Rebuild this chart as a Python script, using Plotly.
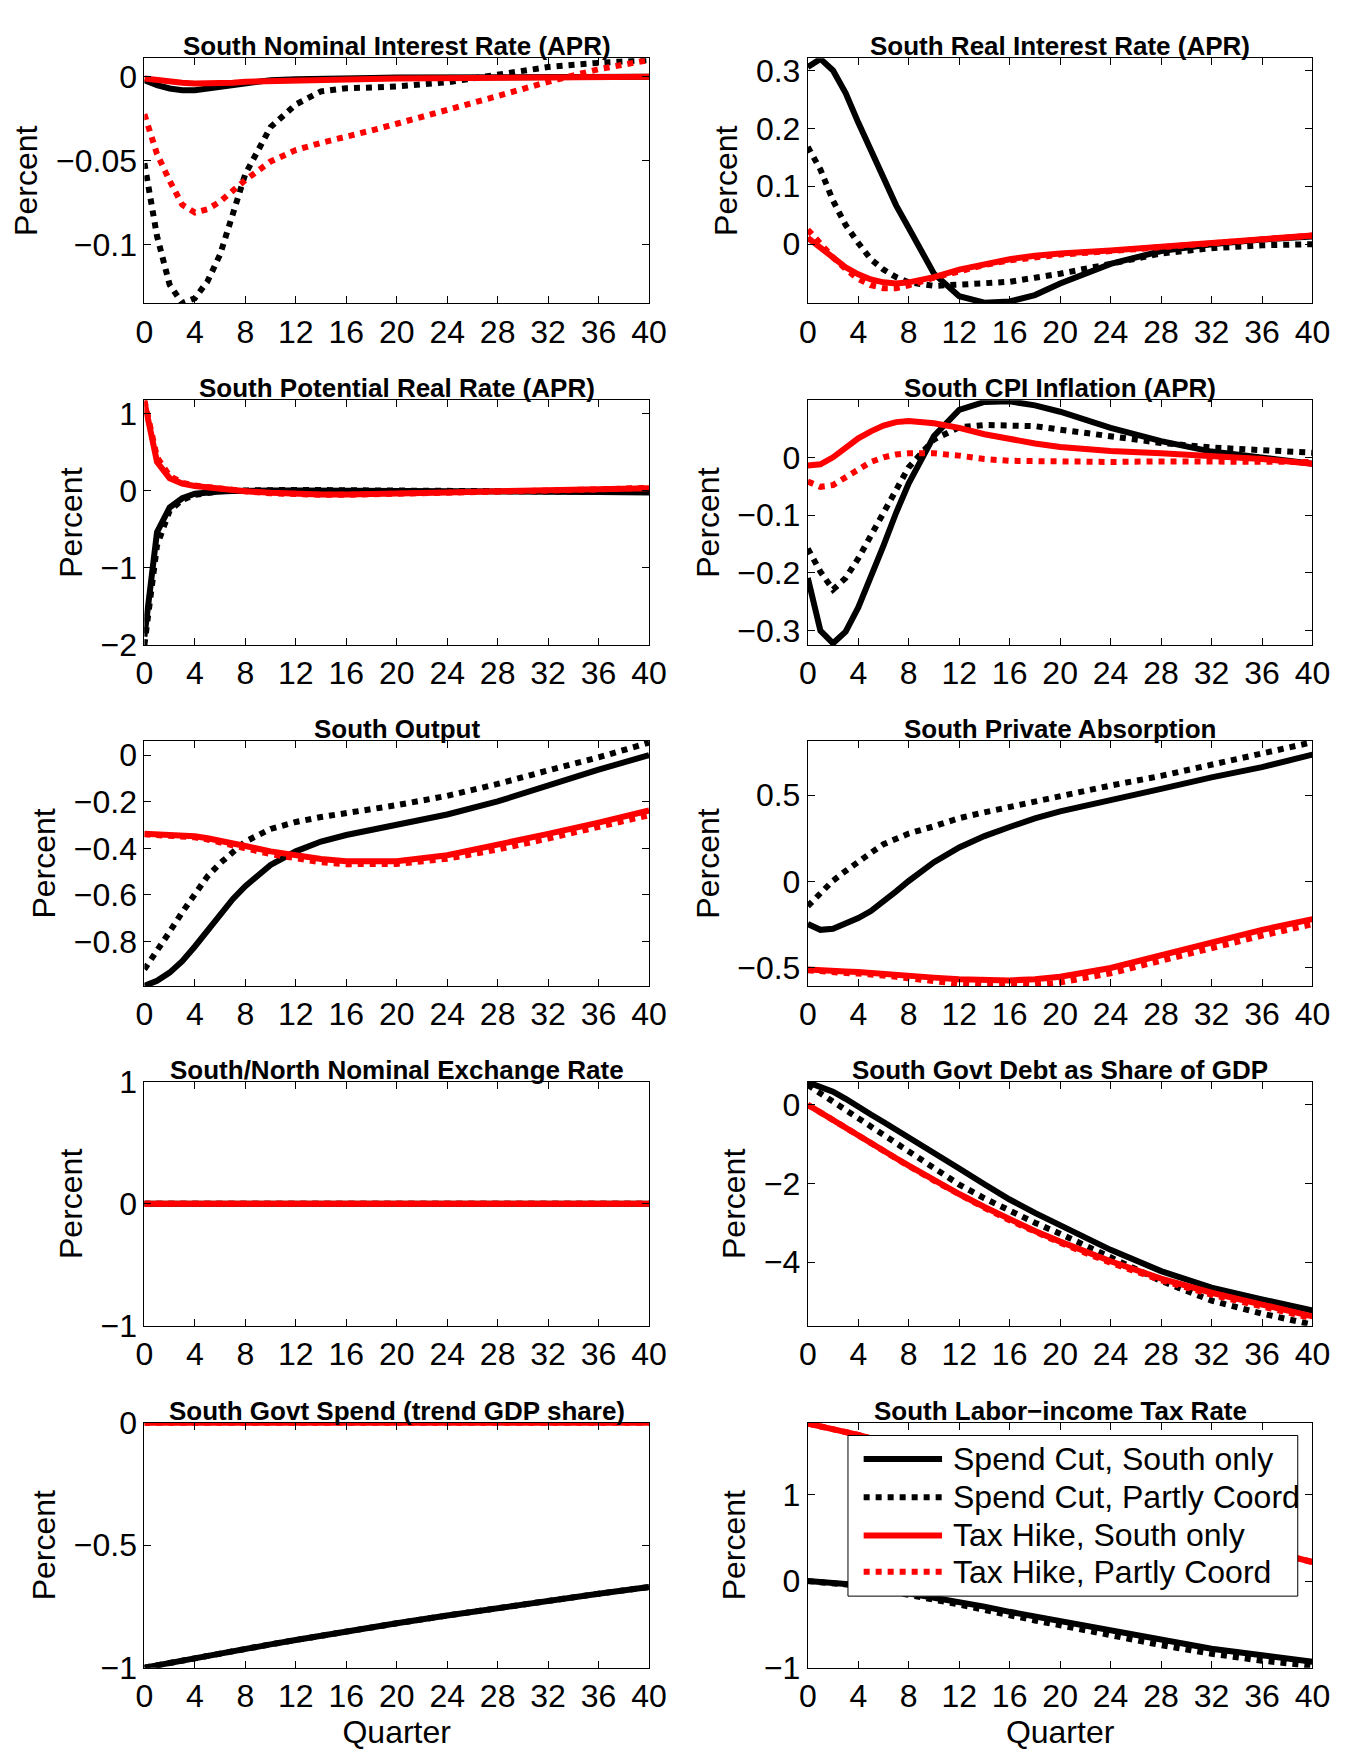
import plotly.graph_objects as go
from plotly.subplots import make_subplots

quarters = [0, 1, 2, 3, 4, 5, 6, 7, 8, 10, 12, 14, 16, 18, 20, 24, 28, 32, 36, 40]

series_names = ['Spend Cut, South only', 'Spend Cut, Partly Coord',
                'Tax Hike, South only', 'Tax Hike, Partly Coord']

# South Nominal Interest Rate (APR)
nom_sc_south = [-0.002, -0.005, -0.007, -0.008, -0.008, -0.007, -0.006, -0.005, -0.004, -0.002,
                -0.0015, -0.001, -0.001, -0.0008, -0.0005, -0.0003, 0.0, 0.0, 0.0, 0.0]
nom_sc_coord = [-0.0515, -0.095, -0.124, -0.135, -0.132, -0.122, -0.106, -0.082, -0.058, -0.030,
                -0.0165, -0.0087, -0.0068, -0.0064, -0.0058, -0.0033, 0.0014, 0.0058, 0.0083, 0.010]
nom_th_south = [-0.001, -0.002, -0.003, -0.0035, -0.004, -0.004, -0.0038, -0.0035, -0.003, -0.0025,
                -0.002, -0.0018, -0.0015, -0.0013, -0.001, -0.0008, -0.0005, -0.0002, 0.0, 0.0]
nom_th_coord = [-0.0223, -0.046, -0.062, -0.0763, -0.081, -0.079, -0.0744, -0.068, -0.0616, -0.0505,
                -0.0437, -0.0394, -0.036, -0.032, -0.028, -0.020, -0.0115, -0.003, 0.0045, 0.010]

# South Real Interest Rate (APR)
real_sc_south = [0.306, 0.32, 0.30, 0.261, 0.21, 0.162, 0.112, 0.067, 0.028, -0.051,
                 -0.090, -0.101, -0.099, -0.088, -0.068, -0.034, -0.012, 0.0, 0.008, 0.013]
real_sc_coord = [0.168, 0.129, 0.075, 0.033, 0.002, -0.026, -0.044, -0.057, -0.066, -0.072,
                 -0.070, -0.068, -0.065, -0.058, -0.051, -0.034, -0.016, -0.007, -0.002, 0.0]
real_th_south = [0.011, -0.006, -0.023, -0.040, -0.052, -0.061, -0.066, -0.068, -0.066, -0.057,
                 -0.044, -0.034, -0.026, -0.020, -0.016, -0.011, -0.005, 0.002, 0.008, 0.015]
real_th_coord = [0.025, 0.0, -0.023, -0.043, -0.060, -0.071, -0.076, -0.076, -0.071, -0.058,
                 -0.046, -0.036, -0.028, -0.022, -0.018, -0.012, -0.006, 0.001, 0.008, 0.015]

# South Potential Real Rate (APR)
pot_sc_south = [-1.89, -0.54, -0.22, -0.10, -0.04, -0.02, -0.013, -0.005, 0.0, 0.0,
                 0.0, 0.0, 0.0, -0.003, -0.005, -0.008, -0.01, -0.015, -0.02, -0.025]
pot_sc_coord = [-2.0, -0.71, -0.26, -0.12, -0.055, -0.025, -0.01, 0.0, 0.005, 0.01,
                 0.008, 0.006, 0.005, 0.002, 0.0, -0.002, -0.006, -0.01, -0.015, -0.02]
pot_th_south = [1.15, 0.37, 0.16, 0.09, 0.06, 0.04, 0.02, 0.01, -0.01, -0.03,
                 -0.045, -0.05, -0.05, -0.048, -0.04, -0.025, -0.01, 0.005, 0.015, 0.03]
pot_th_coord = [1.17, 0.43, 0.19, 0.10, 0.065, 0.045, 0.025, 0.01, -0.01, -0.035,
                 -0.05, -0.055, -0.055, -0.05, -0.045, -0.03, -0.015, 0.0, 0.015, 0.035]

# South CPI Inflation (APR)
cpi_sc_south = [-0.209, -0.300, -0.322, -0.302, -0.260, -0.209, -0.153, -0.096, -0.045, 0.037,
                0.082, 0.096, 0.097, 0.090, 0.079, 0.051, 0.028, 0.010, 0.0, -0.011]
cpi_sc_coord = [-0.158, -0.198, -0.229, -0.209, -0.175, -0.136, -0.096, -0.056, -0.017, 0.031,
                0.052, 0.056, 0.056, 0.054, 0.048, 0.037, 0.025, 0.017, 0.012, 0.008]
cpi_th_south = [-0.014, -0.012, 0.0, 0.017, 0.033, 0.045, 0.055, 0.061, 0.063, 0.059,
                0.051, 0.040, 0.031, 0.024, 0.018, 0.011, 0.007, 0.003, -0.003, -0.011]
cpi_th_coord = [-0.042, -0.051, -0.048, -0.034, -0.020, -0.008, 0.0, 0.005, 0.007, 0.007,
                0.003, -0.003, -0.006, -0.007, -0.008, -0.008, -0.007, -0.007, -0.007, -0.008]

# South Output
out_sc_south = [-0.99, -0.968, -0.933, -0.884, -0.821, -0.751, -0.681, -0.618, -0.562, -0.471,
                -0.413, -0.371, -0.343, -0.320, -0.301, -0.255, -0.199, -0.129, -0.063, 0.0]
out_sc_coord = [-0.919, -0.842, -0.758, -0.674, -0.593, -0.520, -0.464, -0.415, -0.371, -0.317,
                -0.287, -0.266, -0.250, -0.234, -0.215, -0.175, -0.124, -0.066, -0.010, 0.053]
out_th_south = [-0.338, -0.339, -0.341, -0.343, -0.348, -0.357, -0.366, -0.378, -0.390, -0.413,
                -0.432, -0.446, -0.455, -0.457, -0.455, -0.430, -0.387, -0.338, -0.290, -0.238]
out_th_coord = [-0.340, -0.342, -0.345, -0.348, -0.353, -0.362, -0.373, -0.386, -0.400, -0.425,
                -0.445, -0.460, -0.468, -0.470, -0.467, -0.445, -0.405, -0.358, -0.310, -0.258]

# South Private Absorption
abs_sc_south = [-0.247, -0.281, -0.275, -0.247, -0.213, -0.172, -0.119, -0.058, 0.002, 0.111,
                0.196, 0.262, 0.315, 0.365, 0.405, 0.474, 0.536, 0.602, 0.662, 0.734]
abs_sc_coord = [-0.143, -0.070, 0.004, 0.060, 0.117, 0.165, 0.215, 0.250, 0.277, 0.319,
                0.366, 0.400, 0.432, 0.465, 0.498, 0.555, 0.611, 0.677, 0.743, 0.806]
abs_th_south = [-0.511, -0.517, -0.521, -0.523, -0.526, -0.530, -0.535, -0.540, -0.545, -0.558,
                -0.568, -0.574, -0.574, -0.568, -0.553, -0.502, -0.426, -0.351, -0.281, -0.219]
abs_th_coord = [-0.515, -0.523, -0.528, -0.531, -0.534, -0.538, -0.545, -0.553, -0.562, -0.580,
                -0.594, -0.602, -0.605, -0.600, -0.586, -0.533, -0.460, -0.385, -0.315, -0.248]

# South/North Nominal Exchange Rate
fx_sc_south = [0.0] * 20
fx_sc_coord = [0.0] * 20
fx_th_south = [0.0] * 20
fx_th_coord = [0.0] * 20

# South Govt Debt as Share of GDP
debt_sc_south = [0.57, 0.46, 0.33, 0.15, -0.07, -0.25, -0.44, -0.63, -0.82, -1.22,
                 -1.62, -2.02, -2.41, -2.75, -3.07, -3.69, -4.23, -4.65, -4.95, -5.23]
debt_sc_coord = [0.50, 0.29, 0.07, -0.15, -0.37, -0.58, -0.79, -1.00, -1.20, -1.62,
                 -2.03, -2.38, -2.70, -3.00, -3.28, -3.90, -4.48, -4.98, -5.31, -5.59]
debt_th_south = [0.0, -0.20, -0.40, -0.60, -0.79, -0.98, -1.17, -1.36, -1.55, -1.92,
                 -2.27, -2.60, -2.92, -3.21, -3.48, -3.98, -4.42, -4.78, -5.08, -5.38]
debt_th_coord = [0.0, -0.20, -0.40, -0.60, -0.79, -0.98, -1.17, -1.36, -1.56, -1.93,
                 -2.29, -2.62, -2.94, -3.24, -3.51, -4.02, -4.46, -4.83, -5.13, -5.43]

# South Govt Spend (trend GDP share)
gov_sc_south = [-1.0, -0.990, -0.980, -0.970, -0.961, -0.951, -0.942, -0.933, -0.923, -0.905,
                -0.887, -0.869, -0.852, -0.835, -0.819, -0.787, -0.756, -0.727, -0.698, -0.671]
gov_sc_coord = [-1.0, -0.990, -0.980, -0.970, -0.961, -0.951, -0.942, -0.933, -0.923, -0.905,
                -0.887, -0.869, -0.852, -0.835, -0.819, -0.787, -0.756, -0.727, -0.698, -0.671]
gov_th_south = [0.0] * 20
gov_th_coord = [0.0] * 20

# South Labor-income Tax Rate
tax_sc_south = [0.0, -0.008, -0.018, -0.030, -0.045, -0.065, -0.09, -0.115, -0.14, -0.187,
                -0.234, -0.295, -0.355, -0.41, -0.46, -0.574, -0.687, -0.781, -0.857, -0.932]
tax_sc_coord = [0.0, -0.009, -0.02, -0.034, -0.05, -0.075, -0.10, -0.13, -0.16, -0.215,
                -0.27, -0.335, -0.40, -0.455, -0.51, -0.63, -0.74, -0.84, -0.92, -0.98]
tax_th_south = [1.82, 1.79, 1.76, 1.72, 1.69, 1.65, 1.61, 1.57, 1.53, 1.44,
                1.35, 1.26, 1.17, 1.08, 0.99, 0.82, 0.66, 0.51, 0.36, 0.22]
tax_th_coord = [1.82, 1.79, 1.76, 1.72, 1.69, 1.65, 1.61, 1.57, 1.53, 1.44,
                1.35, 1.26, 1.17, 1.08, 0.99, 0.82, 0.66, 0.51, 0.36, 0.22]

panels = [
    ('South Nominal Interest Rate (APR)', [nom_sc_south, nom_sc_coord, nom_th_south, nom_th_coord],
     [-0.135, 0.011], [-0.1, -0.05, 0]),
    ('South Real Interest Rate (APR)', [real_sc_south, real_sc_coord, real_th_south, real_th_coord],
     [-0.102, 0.321], [0, 0.1, 0.2, 0.3]),
    ('South Potential Real Rate (APR)', [pot_sc_south, pot_sc_coord, pot_th_south, pot_th_coord],
     [-2.0, 1.17], [-2, -1, 0, 1]),
    ('South CPI Inflation (APR)', [cpi_sc_south, cpi_sc_coord, cpi_th_south, cpi_th_coord],
     [-0.325, 0.099], [-0.3, -0.2, -0.1, 0]),
    ('South Output', [out_sc_south, out_sc_coord, out_th_south, out_th_coord],
     [-0.99, 0.06], [-0.8, -0.6, -0.4, -0.2, 0]),
    ('South Private Absorption', [abs_sc_south, abs_sc_coord, abs_th_south, abs_th_coord],
     [-0.606, 0.813], [-0.5, 0, 0.5]),
    ('South/North Nominal Exchange Rate', [fx_sc_south, fx_sc_coord, fx_th_south, fx_th_coord],
     [-1, 1], [-1, 0, 1]),
    ('South Govt Debt as Share of GDP', [debt_sc_south, debt_sc_coord, debt_th_south, debt_th_coord],
     [-5.62, 0.58], [-4, -2, 0]),
    ('South Govt Spend (trend GDP share)', [gov_sc_south, gov_sc_coord, gov_th_south, gov_th_coord],
     [-1, 0], [-1, -0.5, 0]),
    ('South Labor\u2212income Tax Rate', [tax_sc_south, tax_sc_coord, tax_th_south, tax_th_coord],
     [-1, 1.83], [-1, 0, 1]),
]

colors = ['black', 'black', 'red', 'red']
dashes = ['solid', 'dot', 'solid', 'dot']

W, H = 1345, 1756
col_px = [(130, 645), (807, 1322)]
row_px = [(33, 283), (382, 632), (730, 980), (1078, 1327), (1426, 1676)]
FONT = 'Liberation Sans, Arial, sans-serif'


def fmt(v):
    return f'{v:g}'.replace('-', '\u2212')


fig = make_subplots(rows=5, cols=2)

annotations = []
for i, (title, series, yr, yt) in enumerate(panels):
    r, c = i // 2, i % 2
    for s, vals in enumerate(series):
        fig.add_trace(go.Scatter(x=quarters, y=vals, mode='lines', name=series_names[s],
                                 line=dict(color=colors[s], width=6, dash=dashes[s]),
                                 showlegend=False),
                      row=r + 1, col=c + 1)
    x0, x1 = col_px[c][0] / W, col_px[c][1] / W
    y0, y1 = 1 - row_px[r][1] / H, 1 - row_px[r][0] / H
    fig.update_xaxes(domain=[x0, x1], range=[0, 40], tickvals=list(range(0, 41, 4)),
                     title_text='Quarter' if r == 4 else None,
                     row=r + 1, col=c + 1)
    fig.update_yaxes(domain=[y0, y1], range=yr, tickvals=yt, ticktext=[fmt(v) for v in yt],
                     title_text='Percent', row=r + 1, col=c + 1)
    annotations.append(dict(text='<b>' + title + '</b>', x=(x0 + x1) / 2, y=y1,
                            xref='paper', yref='paper', xanchor='center', yanchor='bottom',
                            yshift=-5, showarrow=False, font=dict(size=26, color='black')))

axis_style = dict(showline=True, linecolor='black', linewidth=1, mirror='ticks',
                  ticks='inside', ticklen=7, tickcolor='black', showgrid=False, zeroline=False,
                  tickfont=dict(size=32, color='black'),
                  title_font=dict(size=32, color='black'))
fig.update_xaxes(**axis_style)
fig.update_yaxes(**axis_style)
fig.update_yaxes(title_standoff=8)
fig.update_xaxes(title_standoff=4)

# legend box drawn inside the last panel
lx0, lx1, ly0, ly1 = 848, 1307, 1439, 1603
shapes = [dict(type='rect', xref='paper', yref='paper', x0=lx0 / W, x1=lx1 / W,
               y0=1 - ly1 / H, y1=1 - ly0 / H, fillcolor='white',
               line=dict(color='black', width=1))]
entry_y = [1463, 1502, 1541, 1578]
for s, name in enumerate(series_names):
    yy = 1 - entry_y[s] / H
    shapes.append(dict(type='line', xref='paper', yref='paper', x0=864 / W, x1=944 / W,
                       y0=yy, y1=yy, line=dict(color=colors[s], width=6, dash=dashes[s])))
    annotations.append(dict(text=name, x=953 / W, y=yy, xref='paper', yref='paper',
                            xanchor='left', yanchor='middle', showarrow=False,
                            font=dict(size=32, color='black')))

fig.update_layout(width=W, height=H, margin=dict(l=0, r=0, t=0, b=0),
                  plot_bgcolor='white', paper_bgcolor='white',
                  font=dict(family=FONT, color='black'),
                  showlegend=False, annotations=annotations, shapes=shapes)

fig.write_html('out.html')
